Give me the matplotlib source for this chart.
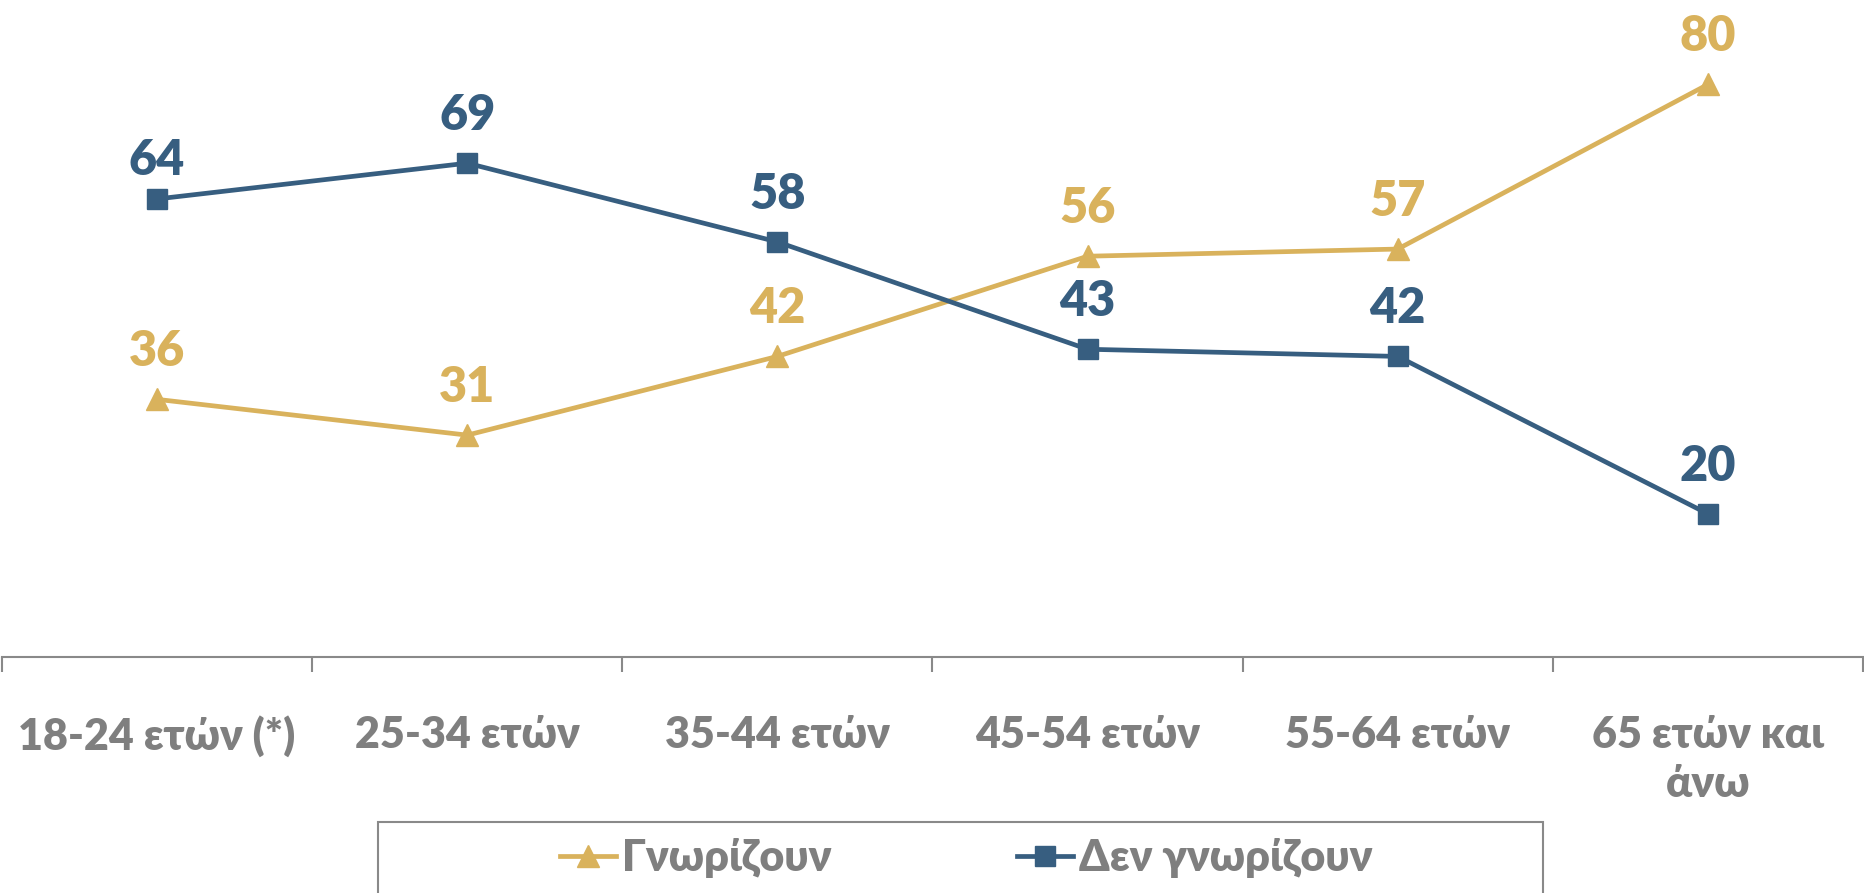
import matplotlib
matplotlib.use("Agg")
import matplotlib.pyplot as plt
from matplotlib.lines import Line2D
from matplotlib.patches import Rectangle

plt.rcParams['font.family'] = ['Lato', 'Noto Sans', 'DejaVu Sans']

categories = ["18-24 ετών (*)", "25-34 ετών", "35-44 ετών", "45-54 ετών", "55-64 ετών", "65 ετών και\nάνω"]
know = [36, 31, 42, 56, 57, 80]
dont_know = [64, 69, 58, 43, 42, 20]
series_names = ["Γνωρίζουν", "Δεν γνωρίζουν"]

GOLD = "#D9B25C"
BLUE = "#375E80"
GRAY = "#7F7F7F"
WEIGHT = 'heavy'

W, H = 1865, 893
fig = plt.figure(figsize=(W / 100, H / 100), dpi=100)
ax = fig.add_axes([2 / W, 1 - 657 / H, 1861 / W, 657 / H])

x = list(range(len(categories)))
ax.plot(x, know, color=GOLD, lw=3.4, marker='^', ms=16, zorder=3)
ax.plot(x, dont_know, color=BLUE, lw=3.4, marker='s', ms=14.5, zorder=3)

# data labels
for i, v in enumerate(know):
    ax.annotate(str(v), (i, v), xytext=(0, 24), textcoords='offset points',
                ha='center', va='baseline', fontsize=35, fontweight=WEIGHT, color=GOLD)
for i, v in enumerate(dont_know):
    off = 17.5 if i == 0 else 24
    ax.annotate(str(v), (i, v), xytext=(0, off), textcoords='offset points',
                ha='center', va='baseline', fontsize=35, fontweight=WEIGHT, color=BLUE)

ax.set_xlim(-0.5, len(categories) - 0.5)
ax.set_ylim(0, 91.8)
ax.set_yticks([])
for s in ['top', 'right', 'left']:
    ax.spines[s].set_visible(False)
ax.spines['bottom'].set_color("#898989")
ax.spines['bottom'].set_linewidth(1.5)

ax.set_xticks(x)
ax.set_xticklabels(categories, fontsize=31, fontweight=WEIGHT, color=GRAY,
                   va='top', linespacing=1.25)
ax.tick_params(axis='x', which='major', length=0, pad=42)
ax.set_xticks([i - 0.5 for i in range(len(categories) + 1)], minor=True)
ax.tick_params(axis='x', which='minor', length=11, width=1.5, color="#898989", direction='out')

# legend box
fig.patches.append(Rectangle((378 / W, -0.05), (1543 - 378) / W, 0.05 + 1 - 822 / H,
                             transform=fig.transFigure, fill=False,
                             edgecolor="#898989", linewidth=1.5))
handles = [Line2D([], [], color=GOLD, lw=3.4, marker='^', ms=16),
           Line2D([], [], color=BLUE, lw=3.4, marker='s', ms=14.5)]
leg = fig.legend(handles, series_names, loc='center', bbox_to_anchor=(966 / W, 1 - 858 / H),
                 ncol=2, frameon=False, handlelength=1.3, handletextpad=0.15,
                 columnspacing=4.3, prop={'size': 31, 'weight': WEIGHT})
for t in leg.get_texts():
    t.set_color(GRAY)

fig.savefig("out.png", dpi=100)
